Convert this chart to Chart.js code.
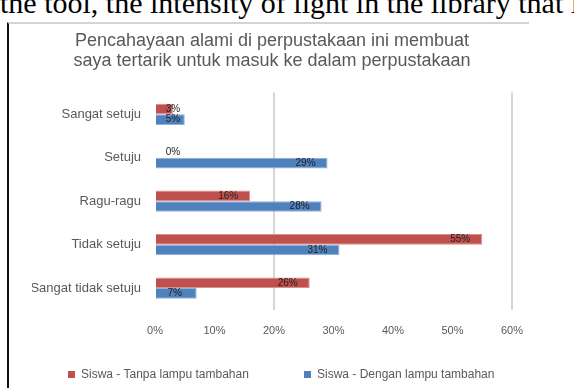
<!DOCTYPE html>
<html>
<head>
<meta charset="utf-8">
<script src="https://cdn.jsdelivr.net/npm/chart.js@4"></script>
<style>
  body { margin: 0; background: #fff; width: 574px; height: 388px; overflow: hidden; position: relative; }
  #teks { position: absolute; left: 0; top: -15px; font-family: "Liberation Serif", serif; font-size: 30px; line-height: 1.2; color: #000; white-space: nowrap; }
  #bingkai { position: absolute; left: 7px; top: 22px; width: 520px; height: 380px; border-left: 2px solid #111; border-top: 2px solid #d4d4d4; }
  #wadah { position: absolute; left: 10px; top: 24px; width: 530px; height: 364px; }
  #legenda { position: absolute; top: 367px; left: 0; width: 574px; font-family: "Liberation Sans", sans-serif; font-size: 12px; color: #595959; }
  #legenda span { position: absolute; white-space: nowrap; }
  #legenda i { display: inline-block; width: 7px; height: 7px; margin-right: 6px; vertical-align: 0px; }
</style>
</head>
<body>
<div id="teks">the tool, the intensity of light in the library that is</div>
<div id="bingkai"></div>
<div id="wadah"><canvas id="grafik"></canvas></div>
<div id="legenda"></div>
<script>
// Kategori jawaban dan persentase tiap kelompok
const kategori = ['Sangat setuju', 'Setuju', 'Ragu-ragu', 'Tidak setuju', 'Sangat tidak setuju'];
const namaSeri = ['Siswa - Tanpa lampu tambahan', 'Siswa - Dengan lampu tambahan'];
const nilaiMerah = [3, 0, 16, 55, 26];
const nilaiBiru = [5, 29, 28, 31, 7];
const judul = ['Pencahayaan alami di perpustakaan ini membuat', 'saya tertarik untuk masuk ke dalam perpustakaan'];
const garisBantu = [20, 60];

const warna = ['#C0504D', '#4F81BD'];
const tepi = ['#d98f8d', '#8fb0d8'];
const abu = '#595959';
const font = 'Liberation Sans';

// Label persen di ujung dalam batang
const labelBatang = {
    id: 'labelBatang',
    afterDatasetsDraw(chart) {
        const ctx = chart.ctx;
        const awal = chart.scales.x.getPixelForValue(0);
        ctx.save();
        ctx.font = '10px "' + font + '"';
        ctx.fillStyle = '#222';
        ctx.textAlign = 'center';
        ctx.textBaseline = 'middle';
        chart.data.datasets.forEach((ds, i) => {
            chart.getDatasetMeta(i).data.forEach((bar, j) => {
                const x = Math.max(bar.x - 22, awal + 18);
                ctx.fillText(ds.data[j] + '%', x, bar.y);
            });
        });
        ctx.restore();
    }
};

const grafik = new Chart(document.getElementById('grafik'), {
    type: 'bar',
    data: {
        labels: kategori,
        datasets: namaSeri.map((nama, i) => ({
            label: nama,
            data: i === 0 ? nilaiMerah : nilaiBiru,
            backgroundColor: warna[i],
            borderColor: tepi[i],
            borderWidth: 1,
            barPercentage: 1,
            categoryPercentage: 0.49
        }))
    },
    options: {
        indexAxis: 'y',
        responsive: true,
        maintainAspectRatio: false,
        animation: false,
        layout: { padding: { left: 22, right: 28, top: 0, bottom: 35 } },
        plugins: {
            title: {
                display: true,
                text: judul,
                color: abu,
                font: { family: font, size: 18, weight: 'normal', lineHeight: 1.1 },
                padding: { top: 7, bottom: 22 }
            },
            legend: { display: false },
            tooltip: { enabled: false }
        },
        scales: {
            x: {
                min: 0,
                max: 60,
                ticks: {
                    stepSize: 10,
                    color: abu,
                    font: { family: font, size: 11 },
                    padding: 15,
                    callback: v => v + '%'
                },
                grid: {
                    drawTicks: false,
                    lineWidth: 2,
                    color: c => garisBantu.includes(c.tick.value) ? '#d6d6d6' : 'transparent'
                },
                border: { display: false }
            },
            y: {
                afterFit: s => { s.width = 123; },
                ticks: {
                    color: abu,
                    font: { family: font, size: 13 },
                    padding: 6
                },
                grid: { display: false },
                border: { display: false }
            }
        }
    },
    plugins: [labelBatang]
});

// Legenda di bawah grafik
const posisiLegenda = [68, 304];
const legenda = document.getElementById('legenda');
grafik.data.datasets.forEach((ds, i) => {
    const item = document.createElement('span');
    item.style.left = posisiLegenda[i] + 'px';
    item.innerHTML = '<i style="background:' + ds.backgroundColor + '"></i>' + ds.label;
    legenda.appendChild(item);
});
</script>
</body>
</html>
